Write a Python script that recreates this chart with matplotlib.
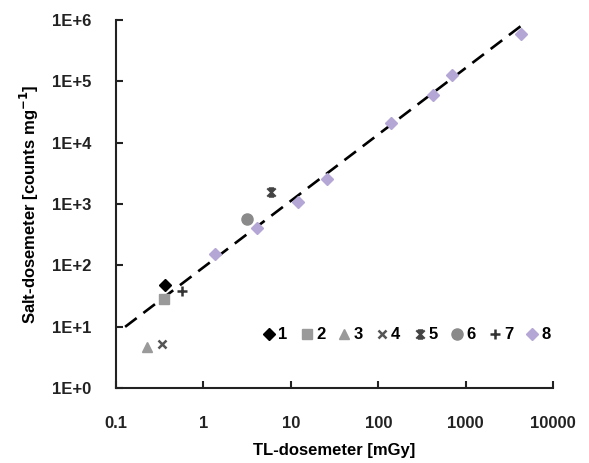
import numpy as np
import matplotlib
matplotlib.use('Agg')
import matplotlib.pyplot as plt
from matplotlib.path import Path
from matplotlib.ticker import FixedLocator, FixedFormatter

plt.rcParams['font.family'] = ['Liberation Sans', 'DejaVu Sans']
plt.rcParams['font.weight'] = 'bold'

# data (x: TL dose in mGy, y: counts per mg)
s1_x, s1_y = [0.363], [48]
s2_x, s2_y = [0.355], [28]
s3_x, s3_y = [0.224], [4.7]
s4_x, s4_y = [0.333], [5.2]
s5_x, s5_y = [6.0], [1540]
s6_x, s6_y = [3.13], [570]
s7_x, s7_y = [0.57], [38]
s8_x = [1.36, 4.07, 12.2, 26.2, 140, 420, 690, 4300]
s8_y = [151, 403, 1090, 2570, 20800, 60000, 127000, 590000]

# power-law trend line y = a * x**b
trend_a = 92.7
trend_b = 1.083
trend_xrange = [0.127, 4270]

x_ticks = [0.1, 1, 10, 100, 1000, 10000]
x_ticklabels = ['0.1', '1', '10', '100', '1000', '10000']
y_ticks = [1, 10, 100, 1e3, 1e4, 1e5, 1e6]
y_ticklabels = ['1E+0', '1E+1', '1E+2', '1E+3', '1E+4', '1E+5', '1E+6']

# excel-like "star" marker: an x with a vertical stroke and end bars
star = Path([(-1, -1), (1, 1), (-1, 1), (1, -1), (0, -1), (0, 1),
             (-0.6, 1), (0.6, 1), (-0.6, -1), (0.6, -1)],
            [Path.MOVETO, Path.LINETO] * 5)

fig = plt.figure(figsize=(5.89, 4.63), dpi=100)
ax = fig.add_axes([0.197, 0.162, 0.742, 0.795])

tx = np.geomspace(trend_xrange[0], trend_xrange[1], 50)
ax.plot(tx, trend_a * tx ** trend_b, color='black', lw=1.9,
        dashes=(5.5, 3.2), zorder=1)

ms = 7
ax.plot(s1_x, s1_y, 'D', color='black', ms=ms - 1, ls='none', label='1')
ax.plot(s2_x, s2_y, 's', color='#9a9a9a', ms=ms, ls='none', label='2')
ax.plot(s3_x, s3_y, '^', color='#9a9a9a', ms=ms, ls='none', label='3')
ax.plot(s4_x, s4_y, 'x', color='#555555', ms=ms - 1, mew=1.8,
        ls='none', label='4')
ax.plot(s5_x, s5_y, marker=star, color='#444444', ms=ms - 1, mew=1.6,
        ls='none', label='5')
ax.plot(s6_x, s6_y, 'o', color='#8a8a8a', ms=ms + 1, ls='none', label='6')
ax.plot(s7_x, s7_y, '+', color='#333333', ms=ms, mew=1.8,
        ls='none', label='7')
ax.plot(s8_x, s8_y, 'D', color='#b4a7d6', ms=ms - 1, ls='none', label='8',
        zorder=3)

ax.set_xscale('log')
ax.set_yscale('log')
ax.set_xlim(0.1, 10000)
ax.set_ylim(1, 1e6)

ax.xaxis.set_major_locator(FixedLocator(x_ticks))
ax.xaxis.set_major_formatter(FixedFormatter(x_ticklabels))
ax.yaxis.set_major_locator(FixedLocator(y_ticks))
ax.yaxis.set_major_formatter(FixedFormatter(y_ticklabels))
ax.minorticks_off()

ax.spines['top'].set_visible(False)
ax.spines['right'].set_visible(False)
for sp in ('left', 'bottom'):
    ax.spines[sp].set_linewidth(1.5)
    ax.spines[sp].set_color('#222222')

ax.tick_params(axis='both', direction='in', length=5, width=1.5,
               labelsize=12, colors='#222222')
ax.tick_params(axis='x', pad=20)
ax.tick_params(axis='y', pad=18)
for lab in ax.get_xticklabels() + ax.get_yticklabels():
    lab.set_fontweight('bold')

ax.set_xlabel('TL-dosemeter [mGy]', fontsize=12, fontweight='bold',
              labelpad=9)
ax.set_ylabel('Salt-dosemeter [counts mg$^{\\mathbf{-1}}$]', fontsize=12,
              fontweight='bold', labelpad=8)

leg = ax.legend(loc='center', bbox_to_anchor=(0.665, 0.144), ncol=8,
                frameon=False, fontsize=12, handlelength=0.8,
                handletextpad=0.15, columnspacing=0.75, borderpad=0)
for t in leg.get_texts():
    t.set_fontweight('bold')

fig.savefig('out.png', dpi=100)
